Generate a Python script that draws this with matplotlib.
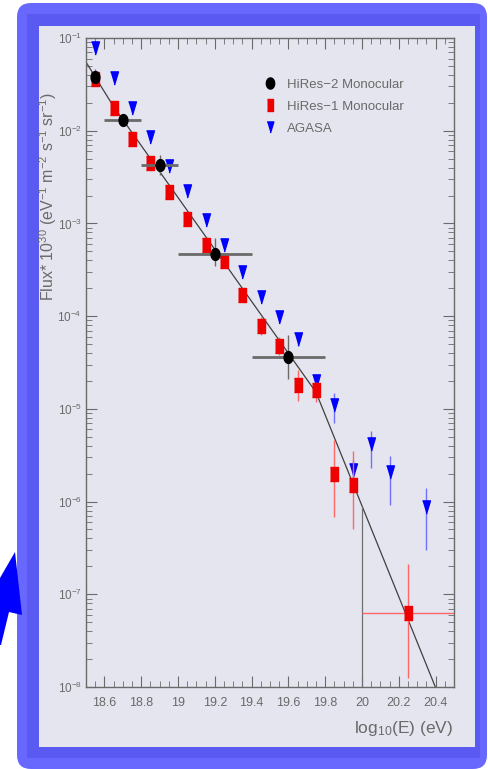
import matplotlib
matplotlib.use("Agg")
import matplotlib.pyplot as plt
from matplotlib.patches import FancyBboxPatch, Rectangle, Polygon
from matplotlib.lines import Line2D
from matplotlib.transforms import Affine2D
from matplotlib.ticker import MultipleLocator, FormatStrFormatter, FixedLocator, LogLocator, NullFormatter
import numpy as np

plt.rcParams["font.family"] = ["Liberation Sans", "DejaVu Sans"]
plt.rcParams["mathtext.fontset"] = "custom"
plt.rcParams["mathtext.rm"] = "Liberation Sans"
plt.rcParams["mathtext.it"] = "Liberation Sans"
plt.rcParams["mathtext.default"] = "regular"

# HiRes-2 monocular (black)
hr2_x = [18.55, 18.7, 18.9, 19.2, 19.6]
hr2_y = [3.8e-2, 1.3e-2, 4.3e-3, 4.7e-4, 3.6e-5]
hr2_lo = [3.2e-2, 1.15e-2, 3.3e-3, 3.5e-4, 2.1e-5]
hr2_hi = [4.6e-2, 1.45e-2, 5.5e-3, 6.9e-4, 6.3e-5]
hr2_xlo = [18.55, 18.6, 18.8, 19.0, 19.4]
hr2_xhi = [18.55, 18.8, 19.0, 19.4, 19.8]

# HiRes-1 monocular (red)
hr1_x = [18.55, 18.65, 18.75, 18.85, 18.95, 19.05, 19.15, 19.25, 19.35, 19.45,
         19.55, 19.65, 19.75, 19.85, 19.95, 20.25]
hr1_y = [3.6e-2, 1.74e-2, 8.1e-3, 4.5e-3, 2.2e-3, 1.12e-3, 5.9e-4, 3.9e-4, 1.7e-4, 7.9e-5,
         4.8e-5, 1.8e-5, 1.6e-5, 2.0e-6, 1.5e-6, 6.3e-8]
hr1_lo = [3.3e-2, 1.6e-2, 7.5e-3, 4.1e-3, 2.0e-3, 1.0e-3, 5.3e-4, 3.4e-4, 1.45e-4, 6.3e-5,
          3.8e-5, 1.23e-5, 1.2e-5, 6.9e-7, 5.1e-7, 1.26e-8]
hr1_hi = [3.9e-2, 1.9e-2, 8.7e-3, 4.9e-3, 2.4e-3, 1.25e-3, 6.6e-4, 4.5e-4, 2.0e-4, 9.8e-5,
          6.0e-5, 2.6e-5, 1.95e-5, 4.6e-6, 3.5e-6, 2.1e-7]
hr1_xlo = hr1_x[:-1] + [20.0]
hr1_xhi = hr1_x[:-1] + [20.5]

# AGASA (blue)
ag_x = [18.55, 18.65, 18.75, 18.85, 18.95, 19.05, 19.15, 19.25, 19.35, 19.45,
        19.55, 19.65, 19.75, 19.85, 19.95, 20.05, 20.15, 20.35]
ag_y = [7.8e-2, 3.7e-2, 1.74e-2, 8.5e-3, 4.2e-3, 2.24e-3, 1.1e-3, 5.9e-4, 3.0e-4, 1.62e-4,
        9.8e-5, 5.6e-5, 2.0e-5, 1.1e-5, 2.2e-6, 4.2e-6, 2.1e-6, 8.7e-7]
ag_lo = [7.3e-2, 3.45e-2, 1.62e-2, 7.9e-3, 3.9e-3, 2.08e-3, 1.02e-3, 5.4e-4, 2.75e-4, 1.45e-4,
         8.6e-5, 4.8e-5, 1.7e-5, 7.1e-6, 1.75e-6, 2.3e-6, 9.1e-7, 3.0e-7]
ag_hi = [8.3e-2, 3.95e-2, 1.86e-2, 9.1e-3, 4.5e-3, 2.4e-3, 1.18e-3, 6.4e-4, 3.3e-4, 1.8e-4,
         1.1e-4, 6.4e-5, 2.3e-5, 1.48e-5, 2.8e-6, 5.8e-6, 3.1e-6, 1.4e-6]

# broken power-law fit, knots
fit_x = [18.5, 18.65, 19.75, 20.45]
fit_y = [5.5e-2, 1.82e-2, 1.51e-5, 5.6e-9]

# thin vertical line at 20.0
cut_x = [20.0, 20.0]
cut_y = [1e-8, 8.7e-7]

decades = [1e-8, 1e-7, 1e-6, 1e-5, 1e-4, 1e-3, 1e-2, 1e-1]

W, H = 489, 769
fig = plt.figure(figsize=(W / 100, H / 100), dpi=100)
fig.patch.set_facecolor("white")
px = Affine2D().scale(1 / W, -1 / H).translate(0, 1) + fig.transFigure

# blue frame + lavender panel
fig.add_artist(FancyBboxPatch((17, 3), 470, 766, boxstyle="round,pad=0,rounding_size=14",
                              transform=px, facecolor="#6868ff", edgecolor="none", zorder=0))
fig.add_artist(Rectangle((27, 14), 453, 744, transform=px, facecolor="#5a5af2",
                         edgecolor="none", zorder=0))
fig.add_artist(Rectangle((39, 26), 436, 721, transform=px, facecolor="#e5e5f0",
                         edgecolor="none", zorder=0))
# blue arrow at lower left
fig.add_artist(Polygon([(15, 552), (22, 615), (9, 612), (1, 645), (0, 645), (0, 578)],
                       closed=True, transform=px, facecolor="#0000ff", edgecolor="none", zorder=1))

ax = fig.add_axes([86 / W, 1 - 687 / H, (454 - 86) / W, (687 - 38) / H])
ax.set_facecolor("#e5e5f0")
ax.set_yscale("log")
ax.set_xlim(18.5, 20.5)
ax.set_ylim(1e-8, 1e-1)

ax.plot(fit_x, fit_y, color="#404040", lw=0.9, zorder=2)
ax.plot(cut_x, cut_y, color="#707070", lw=0.9, zorder=2)

tri = [(-0.6, 1), (0.6, 1), (0, -1)]
rect = [(-0.62, -1), (0.62, -1), (0.62, 1), (-0.62, 1)]
t = np.linspace(0, 2 * np.pi, 40)
ell = list(zip(0.75 * np.cos(t), np.sin(t)))

ag_yerr = [np.array(ag_y) - np.array(ag_lo), np.array(ag_hi) - np.array(ag_y)]
ax.errorbar(ag_x, ag_y, yerr=ag_yerr, fmt="none", ecolor="#7070ff", elinewidth=1, zorder=3)
ax.plot(ag_x, ag_y, ls="none", marker=tri, ms=9.5, color="#0000ff", mec="#0000ff", zorder=4)

hr1_yerr = [np.array(hr1_y) - np.array(hr1_lo), np.array(hr1_hi) - np.array(hr1_y)]
hr1_xerr = [np.array(hr1_x) - np.array(hr1_xlo), np.array(hr1_xhi) - np.array(hr1_x)]
ax.errorbar(hr1_x, hr1_y, yerr=hr1_yerr, xerr=hr1_xerr, fmt="none", ecolor="#ff6666",
            elinewidth=1, zorder=5)
ax.plot(hr1_x, hr1_y, ls="none", marker=rect, ms=9.5, color="#ee0000", mec="#ee0000", zorder=6)

hr2_yerr = [np.array(hr2_y) - np.array(hr2_lo), np.array(hr2_hi) - np.array(hr2_y)]
hr2_xerr = [np.array(hr2_x) - np.array(hr2_xlo), np.array(hr2_xhi) - np.array(hr2_x)]
ax.errorbar(hr2_x, hr2_y, xerr=hr2_xerr, fmt="none", ecolor="#6a6a6a", elinewidth=2, zorder=7)
ax.errorbar(hr2_x, hr2_y, yerr=hr2_yerr, fmt="none", ecolor="#6a6a6a", elinewidth=1, zorder=7)
ax.plot(hr2_x, hr2_y, ls="none", marker=ell, ms=8.5, color="black", zorder=8)

# axes styling
gray = "#6a6a6a"
for s in ax.spines.values():
    s.set_color(gray)
    s.set_linewidth(1)
ax.xaxis.set_major_locator(MultipleLocator(0.2))
ax.xaxis.set_minor_locator(MultipleLocator(0.05))
ax.xaxis.set_major_formatter(FormatStrFormatter("%g"))
ax.yaxis.set_major_locator(FixedLocator(decades))
ax.yaxis.set_minor_locator(LogLocator(base=10, subs=np.arange(2, 10), numticks=20))
ax.yaxis.set_minor_formatter(NullFormatter())
ax.tick_params(which="both", direction="in", top=True, right=True, color=gray,
               labelcolor=gray, labelsize=9)
ax.tick_params(axis="y", labelsize=8.5, pad=3)
ax.tick_params(which="major", length=8)
ax.tick_params(which="minor", length=4)
ax.tick_params(axis="x", pad=7)

fig.text(48 / W, 1 - 197 / H, r"Flux* 10$^{30}$ (eV$^{-1}$ m$^{-2}$ s$^{-1}$ sr$^{-1}$)",
         rotation=90, ha="center", va="center", color=gray, fontsize=11.5)
fig.text(453 / W, 1 - 729 / H, r"log$_{10}$(E) (eV)", ha="right", va="center",
         color=gray, fontsize=12.5)

handles = [
    Line2D([], [], ls="none", marker=ell, ms=8, color="black"),
    Line2D([], [], ls="none", marker=rect, ms=8, color="#ee0000"),
    Line2D([], [], ls="none", marker=tri, ms=8, color="#0000ff"),
]
ax.legend(handles, ["HiRes\u22122 Monocular", "HiRes\u22121 Monocular", "AGASA"],
          loc="upper left", bbox_to_anchor=(0.45, 0.956), frameon=False, fontsize=9.5,
          labelcolor=gray, handletextpad=0.8, labelspacing=0.75, handlelength=1.0)

fig.savefig("out.png", dpi=100)
